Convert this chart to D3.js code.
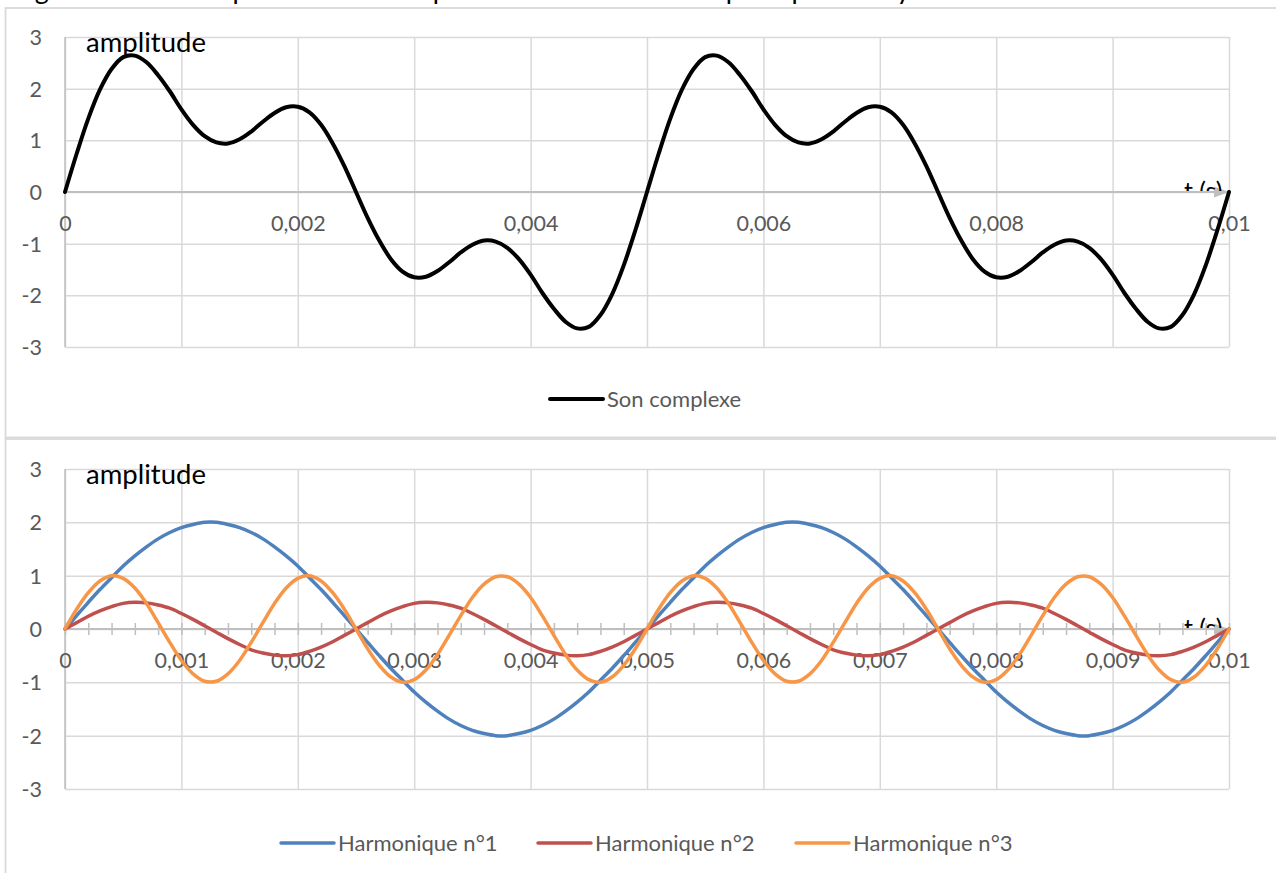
<!DOCTYPE html>
<html><head><meta charset="utf-8">
<script src="https://cdn.jsdelivr.net/npm/d3@7"></script>
<style>
html,body{margin:0;padding:0;background:#fff;overflow:hidden}
svg{display:block;font-family:Lato,"Open Sans",sans-serif}
</style></head><body>
<svg id="c" width="1276" height="873"></svg>
<script>
// ---- data ----
const timeS = [0,0.0001,0.0002,0.0003,0.0004,0.0005,0.0006,0.0007,0.0008,0.0009,
0.001,0.0011,0.0012,0.0013,0.0014,0.0015,0.0016,0.0017,0.0018,0.0019,
0.002,0.0021,0.0022,0.0023,0.0024,0.0025,0.0026,0.0027,0.0028,0.0029,
0.003,0.0031,0.0032,0.0033,0.0034,0.0035,0.0036,0.0037,0.0038,0.0039,
0.004,0.0041,0.0042,0.0043,0.0044,0.0045,0.0046,0.0047,0.0048,0.0049,
0.005,0.0051,0.0052,0.0053,0.0054,0.0055,0.0056,0.0057,0.0058,0.0059,
0.006,0.0061,0.0062,0.0063,0.0064,0.0065,0.0066,0.0067,0.0068,0.0069,
0.007,0.0071,0.0072,0.0073,0.0074,0.0075,0.0076,0.0077,0.0078,0.0079,
0.008,0.0081,0.0082,0.0083,0.0084,0.0085,0.0086,0.0087,0.0088,0.0089,
0.009,0.0091,0.0092,0.0093,0.0094,0.0095,0.0096,0.0097,0.0098,0.0099,0.01];

const sonComplexe = [0,0.74,1.42,1.98,2.38,2.61,2.64,2.51,2.26,1.95,1.60,1.30,1.08,0.96,0.94,1.02,1.17,1.36,1.53,1.64,1.65,1.54,1.30,0.94,0.50,
0,-0.50,-0.94,-1.30,-1.54,-1.65,-1.64,-1.53,-1.36,-1.17,-1.02,-0.94,-0.96,-1.08,-1.30,-1.60,-1.95,-2.26,-2.51,-2.64,-2.61,-2.38,-1.98,-1.42,-0.74,
0,0.74,1.42,1.98,2.38,2.61,2.64,2.51,2.26,1.95,1.60,1.30,1.08,0.96,0.94,1.02,1.17,1.36,1.53,1.64,1.65,1.54,1.30,0.94,0.50,
0,-0.50,-0.94,-1.30,-1.54,-1.65,-1.64,-1.53,-1.36,-1.17,-1.02,-0.94,-0.96,-1.08,-1.30,-1.60,-1.95,-2.26,-2.51,-2.64,-2.61,-2.38,-1.98,-1.42,-0.74,0];

const harmonique1 = [0,0.25,0.50,0.74,0.96,1.18,1.37,1.54,1.69,1.81,1.90,1.96,2.00,2.00,1.96,1.90,1.81,1.69,1.54,1.37,1.18,0.96,0.74,0.50,0.25,
0,-0.25,-0.50,-0.74,-0.96,-1.18,-1.37,-1.54,-1.69,-1.81,-1.90,-1.96,-2.00,-2.00,-1.96,-1.90,-1.81,-1.69,-1.54,-1.37,-1.18,-0.96,-0.74,-0.50,-0.25,
0,0.25,0.50,0.74,0.96,1.18,1.37,1.54,1.69,1.81,1.90,1.96,2.00,2.00,1.96,1.90,1.81,1.69,1.54,1.37,1.18,0.96,0.74,0.50,0.25,
0,-0.25,-0.50,-0.74,-0.96,-1.18,-1.37,-1.54,-1.69,-1.81,-1.90,-1.96,-2.00,-2.00,-1.96,-1.90,-1.81,-1.69,-1.54,-1.37,-1.18,-0.96,-0.74,-0.50,-0.25,0];

const harmonique2 = [0,0.12,0.24,0.34,0.42,0.48,0.50,0.49,0.45,0.39,0.29,0.18,0.06,-0.06,-0.18,-0.29,-0.39,-0.45,-0.49,-0.50,-0.48,-0.42,-0.34,-0.24,-0.12,
0,0.12,0.24,0.34,0.42,0.48,0.50,0.49,0.45,0.39,0.29,0.18,0.06,-0.06,-0.18,-0.29,-0.39,-0.45,-0.49,-0.50,-0.48,-0.42,-0.34,-0.24,-0.12,
0,0.12,0.24,0.34,0.42,0.48,0.50,0.49,0.45,0.39,0.29,0.18,0.06,-0.06,-0.18,-0.29,-0.39,-0.45,-0.49,-0.50,-0.48,-0.42,-0.34,-0.24,-0.12,
0,0.12,0.24,0.34,0.42,0.48,0.50,0.49,0.45,0.39,0.29,0.18,0.06,-0.06,-0.18,-0.29,-0.39,-0.45,-0.49,-0.50,-0.48,-0.42,-0.34,-0.24,-0.12,0];

const harmonique3 = [0,0.37,0.68,0.90,1.00,0.95,0.77,0.48,0.12,-0.25,-0.59,-0.84,-0.98,-0.98,-0.84,-0.59,-0.25,0.12,0.48,0.77,0.95,1.00,0.90,0.68,0.37,
0,-0.37,-0.68,-0.90,-1.00,-0.95,-0.77,-0.48,-0.12,0.25,0.59,0.84,0.98,0.98,0.84,0.59,0.25,-0.12,-0.48,-0.77,-0.95,-1.00,-0.90,-0.68,-0.37,
0,0.37,0.68,0.90,1.00,0.95,0.77,0.48,0.12,-0.25,-0.59,-0.84,-0.98,-0.98,-0.84,-0.59,-0.25,0.12,0.48,0.77,0.95,1.00,0.90,0.68,0.37,
0,-0.37,-0.68,-0.90,-1.00,-0.95,-0.77,-0.48,-0.12,0.25,0.59,0.84,0.98,0.98,0.84,0.59,0.25,-0.12,-0.48,-0.77,-0.95,-1.00,-0.90,-0.68,-0.37,0];

const yTicks = [-3,-2,-1,0,1,2,3];
const gridTimes = [0,0.001,0.002,0.003,0.004,0.005,0.006,0.007,0.008,0.009,0.01];
const topTickValues = [0,0.002,0.004,0.006,0.008,0.01];
const topTickLabels = ["0","0,002","0,004","0,006","0,008","0,01"];
const bottomTickValues = [0,0.001,0.002,0.003,0.004,0.005,0.006,0.007,0.008,0.009,0.01];
const bottomTickLabels = ["0","0,001","0,002","0,003","0,004","0,005","0,006","0,007","0,008","0,009","0,01"];
const minorTimes = [0,0.0002,0.0004,0.0006,0.0008,0.001,0.0012,0.0014,0.0016,0.0018,0.002,0.0022,0.0024,0.0026,0.0028,0.003,0.0032,0.0034,0.0036,0.0038,0.004,0.0042,0.0044,0.0046,0.0048,0.005,0.0052,0.0054,0.0056,0.0058,0.006,0.0062,0.0064,0.0066,0.0068,0.007,0.0072,0.0074,0.0076,0.0078,0.008,0.0082,0.0084,0.0086,0.0088,0.009,0.0092,0.0094,0.0096,0.0098,0.01];

// page caption, cut off at the top edge in the reference (only descenders visible)
const captionText = "Figure 1 : Son complexe et les sons purs : une illustration du principe d'analyse";

const topSeries = [{name:"Son complexe", values:sonComplexe, color:"#000000", width:4}];
const bottomSeries = [
  {name:"Harmonique n°1", values:harmonique1, color:"#4f81bd", width:3.5},
  {name:"Harmonique n°2", values:harmonique2, color:"#c0504d", width:3.5},
  {name:"Harmonique n°3", values:harmonique3, color:"#f79646", width:3.5}
];

// ---- drawing ----
const svg = d3.select("#c");
const X0 = 65, X1 = 1229;
const GRID = "#d9d9d9", AXIS = "#bfbfbf", LABEL = "#595959";

svg.append("text").attr("x",13).attr("y",-1.5).text(captionText)
  .attr("font-size",27).attr("fill","#000");

// chart-area borders
svg.append("rect").attr("x",5.5).attr("y",8).attr("width",1320).attr("height",429.5)
  .attr("fill","none").attr("stroke",GRID).attr("stroke-width",1.8);
svg.append("rect").attr("x",5.5).attr("y",439).attr("width",1320).attr("height",480)
  .attr("fill","none").attr("stroke",GRID).attr("stroke-width",1.8);

function panel(o){
  const x = d3.scaleLinear().domain([0,0.01]).range([X0,X1]);
  const y = d3.scaleLinear().domain([-3,3]).range([o.yb,o.yt]);
  const g = svg.append("g");
  const y0 = y(0);

  // vertical gridlines
  g.append("g").attr("transform",`translate(0,${o.yb})`)
    .call(d3.axisBottom(x).tickValues(gridTimes).tickSize(-(o.yb-o.yt)).tickFormat(""))
    .call(s=>s.select(".domain").remove())
    .call(s=>s.selectAll("line").attr("stroke",GRID).attr("stroke-width",1.5));
  // horizontal gridlines
  g.append("g").attr("transform",`translate(${X0},0)`)
    .call(d3.axisLeft(y).tickValues(yTicks).tickSize(-(X1-X0)).tickFormat(""))
    .call(s=>s.select(".domain").remove())
    .call(s=>s.selectAll("line").attr("stroke",GRID).attr("stroke-width",1.5));
  // left axis line
  g.append("line").attr("x1",X0).attr("x2",X0).attr("y1",o.yt).attr("y2",o.yb)
    .attr("stroke",AXIS).attr("stroke-width",1.5);

  // y labels
  g.append("g").attr("transform",`translate(42,0)`)
    .call(d3.axisLeft(y).tickValues(yTicks).tickSize(0).tickPadding(0).tickFormat(d=>String(d)))
    .call(s=>s.select(".domain").remove())
    .call(s=>s.selectAll("text").attr("fill",LABEL).attr("font-size",21.5).attr("font-family","Lato").attr("dy","0.35em"));

  // minor ticks
  if(o.minor){
    g.append("g").attr("transform",`translate(0,${y0-6})`)
      .call(d3.axisBottom(x).tickValues(minorTimes).tickSize(12).tickFormat(""))
      .call(s=>s.select(".domain").remove())
      .call(s=>s.selectAll("line").attr("stroke",AXIS).attr("stroke-width",1.5));
  }
  // x axis line with arrow
  g.append("line").attr("x1",X0).attr("x2",X1-8).attr("y1",y0).attr("y2",y0)
    .attr("stroke",AXIS).attr("stroke-width",1.8);
  g.append("path").attr("d",`M${X1},${y0}L${X1-15},${y0-5.5}L${X1-15},${y0+5.5}Z`).attr("fill",AXIS);

  // x labels
  g.append("g").attr("transform",`translate(0,${y0})`)
    .call(d3.axisBottom(x).tickValues(o.xTicks).tickSize(0).tickPadding(0).tickFormat((d,i)=>o.xLabels[i]))
    .call(s=>s.select(".domain").remove())
    .call(s=>s.selectAll("text").attr("fill",LABEL).attr("font-size",21.5).attr("font-family","Lato").attr("y",31).attr("dy","0.35em"));

  // amplitude label
  g.append("text").attr("x",86).attr("y",o.yt+15).text("amplitude")
    .attr("font-size",27.5).attr("fill","#000");

  // t (s) label, clipped at the axis
  const cid = "clip"+o.id;
  svg.append("clipPath").attr("id",cid).append("rect")
    .attr("x",1100).attr("y",y0-40).attr("width",200).attr("height",39);
  g.append("text").attr("x",1184).attr("y",y0+8).text("t (s)")
    .attr("font-size",25).attr("fill","#000").attr("clip-path",`url(#${cid})`);

  // series
  const line = d3.line().x((d,i)=>x(timeS[i])).y(d=>y(d)).curve(d3.curveCatmullRom.alpha(0.5));
  o.series.forEach(s=>{
    g.append("path").datum(s.values).attr("d",line).attr("fill","none")
      .attr("stroke",s.color).attr("stroke-width",s.width).attr("stroke-linejoin","round").attr("stroke-linecap","round");
  });

  // legend
  const lg = g.append("g");
  o.series.forEach((s,i)=>{
    const lx = o.legendX[i];
    lg.append("line").attr("x1",lx).attr("x2",lx+53).attr("y1",o.legendY).attr("y2",o.legendY)
      .attr("stroke",s.color).attr("stroke-width",s.width).attr("stroke-linecap","round");
    lg.append("text").attr("x",lx+57).attr("y",o.legendY).attr("dy","0.35em").text(s.name)
      .attr("font-size",22).attr("fill",LABEL);
  });
}

panel({id:"top", yt:37, yb:347, series:topSeries, xTicks:topTickValues, xLabels:topTickLabels,
  minor:false, legendX:[550], legendY:399});
panel({id:"bot", yt:469, yb:789, series:bottomSeries, xTicks:bottomTickValues, xLabels:bottomTickLabels,
  minor:true, legendX:[281,538,796], legendY:843});
</script>
</body></html>
